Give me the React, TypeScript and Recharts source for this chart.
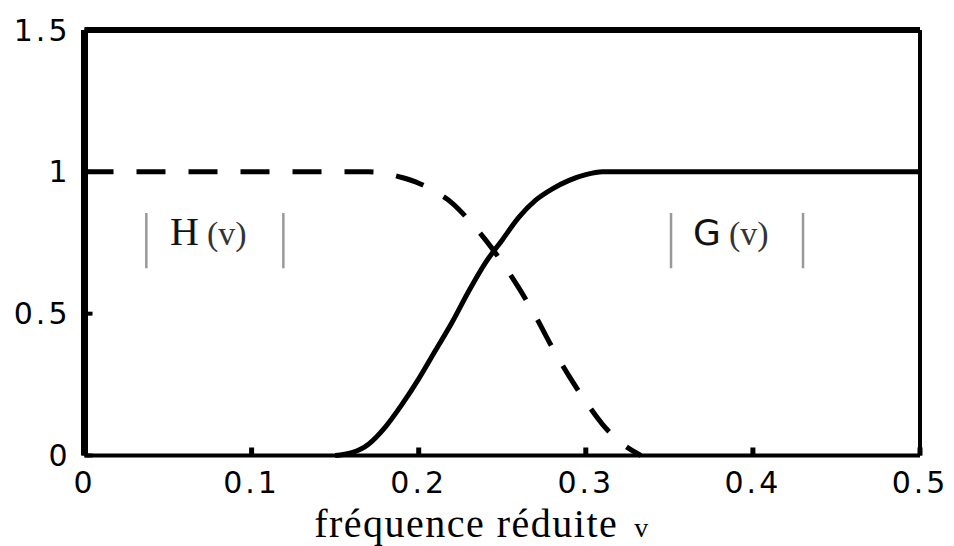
import React from 'react';
import { LineChart, Line, XAxis, YAxis, ReferenceLine, Customized } from 'recharts';

// reduced frequency v
const freq = [0, 0.05, 0.1, 0.15, 0.16, 0.17, 0.18, 0.19, 0.2, 0.21, 0.22, 0.23, 0.24, 0.25, 0.26, 0.27, 0.28, 0.29, 0.3, 0.31, 0.32, 0.333, 0.35, 0.4, 0.45, 0.5];
// |H(v)| (dashed)
const hMag = [1, 1, 1, 1, 1, 1, 0.995, 0.98, 0.96, 0.93, 0.89, 0.83, 0.76, 0.68, 0.59, 0.49, 0.38, 0.28, 0.19, 0.11, 0.05, 0, null, null, null, null];
// |G(v)| (solid)
const gMag = [null, null, null, 0, 0.01, 0.04, 0.1, 0.18, 0.27, 0.37, 0.47, 0.58, 0.68, 0.76, 0.84, 0.9, 0.94, 0.97, 0.99, 1, 1, 1, 1, 1, 1, 1];

const xTicks = [0, 0.1, 0.2, 0.3, 0.4, 0.5];
const yTicks = [0, 0.5, 1, 1.5];

const data = freq.map((v, i) => ({ v, h: hMag[i], g: gMag[i] }));

const tickStyle = { fontFamily: 'DejaVu Sans', fontSize: 30, fill: '#000', letterSpacing: 3 };
const serif = 'Liberation Serif, Times New Roman, serif';
const sans = 'DejaVu Sans, sans-serif';

const Annotations = () => (
  <g>
    <text x={482} y={537} textAnchor="middle" fontFamily={serif} fontSize={40} letterSpacing={1.5} fill="#000">
      fréquence réduite
      <tspan dx={16} fontSize={28}>v</tspan>
    </text>
    <text x={170} y={245} fontFamily={serif} fontSize={40} fill="#111">
      H<tspan dx={8} fontSize={34} fill="#333">(v)</tspan>
    </text>
    <text x={693} y={245} fontFamily={sans} fontSize={36} fill="#111">
      G<tspan dx={8} fontFamily={serif} fontSize={34} fill="#333">(v)</tspan>
    </text>
  </g>
);

const App: React.FC = () => {
  return (
    <div style={{ position: 'absolute', left: 0, top: 0, width: 954, height: 546, background: '#fff' }}>
      <LineChart width={954} height={546} data={data} margin={{ top: 29, right: 33, left: 24.5, bottom: 50.5 }}>
        <XAxis
          xAxisId="b"
          dataKey="v"
          type="number"
          domain={[0, 0.5]}
          ticks={xTicks}
          interval={0}
          height={40}
          tickSize={-8}
          tickMargin={24}
          tick={tickStyle}
          tickLine={{ stroke: '#000', strokeWidth: 5 }}
          axisLine={{ stroke: '#000', strokeWidth: 4 }}
        />
        <XAxis
          xAxisId="t"
          dataKey="v"
          orientation="top"
          type="number"
          domain={[0, 0.5]}
          ticks={xTicks}
          interval={0}
          height={1}
          tickSize={-7}
          tick={false}
          tickLine={{ stroke: '#000', strokeWidth: 4 }}
          axisLine={{ stroke: '#000', strokeWidth: 6 }}
        />
        <YAxis
          yAxisId="l"
          type="number"
          domain={[0, 1.5]}
          ticks={yTicks}
          interval={0}
          width={60}
          tickSize={-8}
          tickMargin={22}
          tick={tickStyle}
          tickLine={{ stroke: '#000', strokeWidth: 4 }}
          axisLine={{ stroke: '#000', strokeWidth: 7 }}
        />
        <YAxis
          yAxisId="r"
          orientation="right"
          type="number"
          domain={[0, 1.5]}
          ticks={yTicks}
          interval={0}
          width={1}
          tickSize={-7}
          tick={false}
          tickLine={{ stroke: '#000', strokeWidth: 4 }}
          axisLine={{ stroke: '#000', strokeWidth: 4 }}
        />
        <ReferenceLine xAxisId="b" yAxisId="l" segment={[{ x: 0.037, y: 0.66 }, { x: 0.037, y: 0.855 }]} stroke="#999" strokeWidth={2.5} />
        <ReferenceLine xAxisId="b" yAxisId="l" segment={[{ x: 0.119, y: 0.66 }, { x: 0.119, y: 0.855 }]} stroke="#999" strokeWidth={2.5} />
        <ReferenceLine xAxisId="b" yAxisId="l" segment={[{ x: 0.351, y: 0.66 }, { x: 0.351, y: 0.855 }]} stroke="#999" strokeWidth={2.5} />
        <ReferenceLine xAxisId="b" yAxisId="l" segment={[{ x: 0.43, y: 0.66 }, { x: 0.43, y: 0.855 }]} stroke="#999" strokeWidth={2.5} />
        <Line
          xAxisId="b"
          yAxisId="l"
          type="monotone"
          dataKey="h"
          stroke="#000"
          strokeWidth={5}
          strokeDasharray="29 23"
          dot={false}
          isAnimationActive={false}
        />
        <Line
          xAxisId="b"
          yAxisId="l"
          type="monotone"
          dataKey="g"
          stroke="#000"
          strokeWidth={5}
          dot={false}
          isAnimationActive={false}
        />
        <Line
          xAxisId="t"
          yAxisId="r"
          type="monotone"
          dataKey="g"
          stroke="none"
          legendType="none"
          dot={false}
          activeDot={false}
          isAnimationActive={false}
        />
        <Customized component={Annotations} />
      </LineChart>
    </div>
  );
};

export default App;
